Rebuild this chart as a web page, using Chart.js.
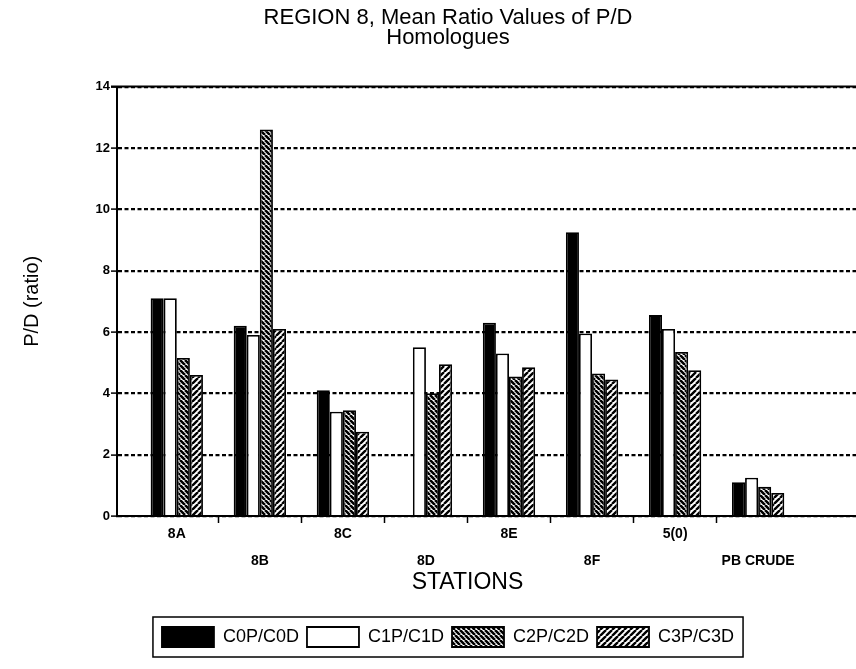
<!DOCTYPE html>
<html>
<head>
<meta charset="utf-8">
<title>REGION 8, Mean Ratio Values of P/D Homologues</title>
<script src="https://cdn.jsdelivr.net/npm/chart.js@4.4.1/dist/chart.umd.min.js"></script>
<style>
  html, body { margin: 0; padding: 0; overflow: hidden; background: #fff; }
  canvas { display: block; }
</style>
</head>
<body>
<canvas id="chart" width="896" height="669"></canvas>
<script>
// Stations along the x axis
const stations = ['8A', '8B', '8C', '8D', '8E', '8F', '5(0)', 'PB CRUDE'];

// Mean P/D ratio per homologue group (8D has no C0 value)
const c0pc0d = [7.1, 6.2, 4.1, null, 6.3, 9.25, 6.55, 1.1];
const c1pc1d = [7.1, 5.9, 3.4, 5.5, 5.3, 5.95, 6.1, 1.25];
const c2pc2d = [5.15, 12.6, 3.45, 4.0, 4.55, 4.65, 5.35, 0.95];
const c3pc3d = [4.6, 6.1, 2.75, 4.95, 4.85, 4.45, 4.75, 0.75];

const seriesNames = ['C0P/C0D', 'C1P/C1D', 'C2P/C2D', 'C3P/C3D'];
const yTicks = [0, 2, 4, 6, 8, 10, 12, 14];

const FONT = '"Liberation Sans", Arial, Helvetica, sans-serif';
Chart.defaults.font.family = FONT;
Chart.defaults.color = '#000';

// Diagonal hatch fill: 'back' = "\" lines, 'fwd' = "/" lines
function hatch(dir, size, width) {
  const t = document.createElement('canvas');
  t.width = t.height = size;
  const g = t.getContext('2d');
  g.fillStyle = '#fff';
  g.fillRect(0, 0, size, size);
  g.strokeStyle = '#000';
  g.lineWidth = width;
  g.beginPath();
  for (const k of [-size, 0, size]) {
    if (dir === 'back') { g.moveTo(k, 0); g.lineTo(k + size, size); }
    else { g.moveTo(k, size); g.lineTo(k + size, 0); }
  }
  g.stroke();
  return g.createPattern(t, 'repeat');
}

const fills = ['#000', '#fff', hatch('back', 5, 2.6), hatch('fwd', 6, 2.4)];
const series = [c0pc0d, c1pc1d, c2pc2d, c3pc3d];

const datasets = series.map((vals, s) => ({
  label: seriesNames[s],
  data: vals.map((v, i) => ({ x: i, y: v })),
  backgroundColor: fills[s],
  borderColor: '#000',
  borderWidth: 1.8,
  categoryPercentage: 0.63,
  barPercentage: 1.0
}));

// Outer frame line, legend box and the x-axis title
const framePlugin = {
  id: 'frame',
  afterDraw(chart) {
    const { ctx, chartArea: a, scales: { x } } = chart;
    ctx.save();
    ctx.strokeStyle = '#000';
    ctx.lineWidth = 2;
    ctx.beginPath();
    ctx.moveTo(a.left - 6, a.top);
    ctx.lineTo(a.right, a.top);
    ctx.stroke();

    const hb = chart.legend.legendHitBoxes;
    if (hb && hb.length) {
      const l = Math.min(...hb.map(h => h.left)) - 9;
      const r = Math.max(...hb.map(h => h.left + h.width)) + 9;
      const t = hb[0].top - 10;
      const b = hb[0].top + hb[0].height + 10;
      ctx.lineWidth = 1.5;
      ctx.strokeRect(l, t, r - l, b - t);
    }

    ctx.fillStyle = '#000';
    ctx.font = '23px ' + FONT;
    ctx.textAlign = 'center';
    ctx.textBaseline = 'middle';
    ctx.fillText('STATIONS', x.getPixelForValue((stations.length - 1) / 2), x.bottom - 36);
    ctx.restore();
  }
};

new Chart(document.getElementById('chart'), {
  type: 'bar',
  data: { datasets },
  plugins: [framePlugin],
  options: {
    responsive: false,
    animation: false,
    devicePixelRatio: 1,
    layout: { padding: { top: 0, left: 0, right: 0, bottom: 12 } },
    plugins: {
      tooltip: { enabled: false },
      title: {
        display: true,
        text: ['REGION 8, Mean Ratio Values of P/D', 'Homologues'],
        font: { size: 22, weight: 'normal', lineHeight: 0.9 },
        color: '#000',
        padding: { top: 8, bottom: 39 }
      },
      legend: {
        position: 'bottom',
        labels: {
          boxWidth: 52,
          boxHeight: 20,
          padding: 8,
          color: '#000',
          font: { size: 18 }
        }
      }
    },
    scales: {
      x: {
        type: 'linear',
        min: -0.72,
        max: 8.66,
        offset: false,
        bounds: 'data',
        afterBuildTicks: s => { s.ticks = stations.map((_, i) => ({ value: i })); },
        afterFit: s => { s.height = 103; },
        ticks: {
          autoSkip: false,
          maxRotation: 0,
          minRotation: 0,
          padding: -2,
          color: '#000',
          font: { size: 14, weight: 'bold', lineHeight: 1.9 },
          callback: (v, i) => (i % 2 ? ['', stations[i]] : stations[i])
        },
        grid: {
          offset: true,
          drawOnChartArea: false,
          drawTicks: true,
          tickLength: 7,
          tickWidth: 1.5,
          tickColor: ctx => (ctx.type === 'tick' && ctx.index > 0 ? '#000' : 'rgba(0,0,0,0)')
        },
        border: { display: true, color: '#000', width: 2 },
        title: { display: false }
      },
      y: {
        min: 0,
        max: 14,
        afterBuildTicks: s => { s.ticks = yTicks.map(v => ({ value: v })); },
        afterFit: s => { s.width = 117; },
        ticks: { padding: 1, color: '#000', font: { size: 13, weight: 'bold' } },
        grid: {
          color: '#000',
          lineWidth: 2.2,
          drawTicks: true,
          tickLength: 6,
          tickWidth: 1.5,
          tickColor: '#000'
        },
        border: { display: true, color: '#000', width: 2, dash: [4, 2.5] },
        title: {
          display: true,
          text: 'P/D (ratio)',
          color: '#000',
          font: { size: 20 },
          padding: { top: 20, bottom: 0 }
        }
      }
    }
  }
});
</script>
</body>
</html>
